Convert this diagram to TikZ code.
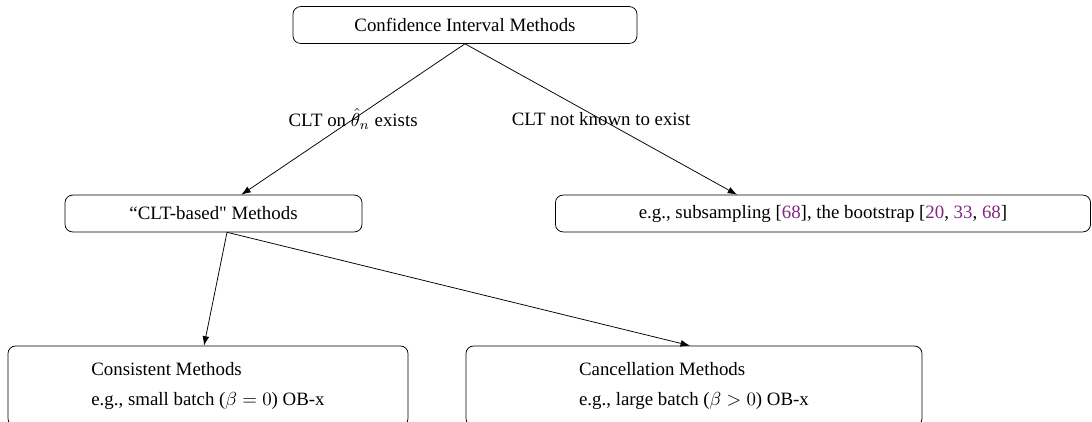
\documentclass[tikz,border=0pt]{standalone}
\usepackage{amsmath, amssymb}
\usepackage{fontspec}
\setmainfont{Liberation Serif}
\usetikzlibrary{calc,arrows.meta}
\definecolor{citecol}{RGB}{128,40,128}
\newcommand{\citenum}[1]{\textcolor{citecol}{#1}}

\begin{document}
\begin{tikzpicture}[x=0.53pt, y=-0.53pt, >={Latex[length=5pt,width=3.6pt]},
    methbox/.style={draw, rectangle, rounded corners=4pt, minimum height=19.5pt, inner sep=0pt}]
      \useasboundingbox (0,0) rectangle (1092,421);
      \node [methbox,minimum width=182.3pt] (ci) at (465,25) {Confidence Interval Methods};
      \node [methbox,minimum width=157.4pt] (clt) at (213.5,213.5) {“CLT-based\textquotedbl{} Methods};
      \node [methbox,minimum width=283.6pt] (sub) at (823,213.5)
        {e.g., subsampling [\citenum{68}], the bootstrap [\citenum{20}, \citenum{33}, \citenum{68}]};
      \node [methbox,minimum width=212pt,minimum height=42.4pt,align=left] (cons) at (208,386)
        {Consistent Methods\\[4pt] e.g., small batch ($\beta = 0$) OB-x};
      \node [methbox,minimum width=241.7pt,minimum height=42.4pt,align=left] (canc) at (694,386)
        {Cancellation Methods\\[4pt] e.g., large batch ($\beta > 0$) OB-x};
      \coordinate (sub in) at ($(sub.north west)+(182,0)$);
      \coordinate (clt out) at ($(clt.south)+(13.5,0)$);
      \draw[->]
        (ci.south) -- (clt) node [midway] {CLT on $\hat{\theta}_n$ exists};
      \draw[->]
        (ci.south) -- (sub in) node [midway] {CLT not known to exist};
      \draw[->]
        (clt out) -- ($(cons.north)+(-4,0)$);
      \draw[->]
        (clt out) -- ($(canc.north)+(-4,0)$);
    \end{tikzpicture}
\end{document}
